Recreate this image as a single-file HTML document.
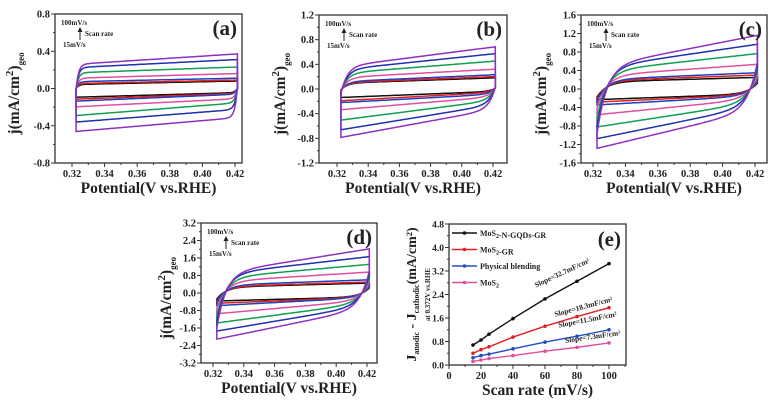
<!DOCTYPE html>
<html><head><meta charset="utf-8"><style>
html,body{margin:0;padding:0;background:#fff}
svg{display:block;font-family:"Liberation Serif",serif;font-weight:bold}
</style></head><body>
<svg id="fig" width="782" height="400" viewBox="0 0 782 400" xmlns="http://www.w3.org/2000/svg"></svg>
<script>
// ---- data ----
const scanRates = [15,20,25,40,60,80,100];
const cvColors = ["#111","#e02020","#2040c0","#e050a0","#10a050","#2030b0","#9030c0"];
// per panel: anodic at 0.34, anodic at 0.42, cathodic at 0.33, cathodic at 0.41
const aAnL=[0.05,0.06,0.08,0.12,0.18,0.24,0.28], aAnR=[0.08,0.09,0.11,0.16,0.23,0.31,0.37], aCaL=[-0.09,-0.11,-0.13,-0.19,-0.28,-0.35,-0.45], aCaR=[-0.05,-0.06,-0.07,-0.12,-0.17,-0.24,-0.33];
const bAnL=[0.11,0.12,0.14,0.21,0.29,0.36,0.42], bAnR=[0.18,0.2,0.23,0.32,0.45,0.57,0.68], bCaL=[-0.13,-0.18,-0.21,-0.32,-0.48,-0.63,-0.75], bCaR=[-0.05,-0.07,-0.1,-0.15,-0.22,-0.3,-0.38];
const cAnL=[0.17,0.2,0.23,0.33,0.45,0.55,0.6], cAnR=[0.25,0.3,0.35,0.53,0.76,0.96,1.15], cCaL=[-0.22,-0.27,-0.33,-0.53,-0.78,-1.02,-1.22], cCaR=[-0.12,-0.14,-0.17,-0.25,-0.35,-0.45,-0.55];
const dAnL=[0.3,0.33,0.4,0.6,0.8,1.0,1.1], dAnR=[0.45,0.5,0.6,0.95,1.3,1.65,2.0], dCaL=[-0.35,-0.45,-0.55,-0.9,-1.3,-1.65,-2.0], dCaR=[-0.2,-0.22,-0.25,-0.4,-0.55,-0.7,-0.85];
const xTickLabels = ["0.32","0.34","0.36","0.38","0.40","0.42"];
const aYTicks=["-0.8","-0.4","0.0","0.4","0.8"];
const bYTicks=["-1.2","-0.8","-0.4","0.0","0.4","0.8","1.2"];
const cYTicks=["-1.6","-1.2","-0.8","-0.4","0.0","0.4","0.8","1.2","1.6"];
const dYTicks=["-3.2","-2.4","-1.6","-0.8","0.0","0.8","1.6","2.4","3.2"];
// panel e
const eRates=[15,20,25,40,60,80,100];
const eGQD=[0.68,0.85,1.05,1.58,2.25,2.85,3.45];
const eGR=[0.4,0.52,0.62,0.95,1.32,1.65,1.95];
const eBlend=[0.25,0.32,0.37,0.55,0.78,0.98,1.2];
const eMoS2=[0.12,0.17,0.22,0.32,0.47,0.6,0.75];
const eXTicks=["0","20","40","60","80","100"];
const eYTicks=["0.0","0.8","1.6","2.4","3.2","4.0","4.8"];

const NS="http://www.w3.org/2000/svg";
const svg=document.getElementById('fig');
function el(tag,attrs,parent,text){const e=document.createElementNS(NS,tag);for(const k in attrs)e.setAttribute(k,attrs[k]);if(text!==undefined)e.textContent=text;(parent||svg).appendChild(e);return e;}

const panels=[
 {id:'a',L:55,R:242,T:14,B:163,x32:72,x42:235,ymin:-0.8,ymax:0.8,yt:aYTicks,tau:0.0015,ks:0,ke:0,an:[aAnL,aAnR],ca:[aCaL,aCaR],ylx:14},
 {id:'b',L:319,R:507,T:15,B:163,x32:337,x42:493,ymin:-1.2,ymax:1.2,yt:bYTicks,tau:0.004,ks:0.1,ke:0.05,an:[bAnL,bAnR],ca:[bCaL,bCaR],ylx:280},
 {id:'c',L:581,R:767,T:15,B:163,x32:593,x42:755,ymin:-1.6,ymax:1.6,yt:cYTicks,tau:0.006,ks:0.75,ke:0.5,an:[cAnL,cAnR],ca:[cCaL,cCaR],ylx:541},
 {id:'d',L:201,R:377,T:223,B:363,x32:213,x42:367,ymin:-3.2,ymax:3.2,yt:dYTicks,tau:0.006,ks:0.75,ke:0.5,an:[dAnL,dAnR],ca:[dCaL,dCaR],ylx:166}
];
panels.forEach(p=>{
 const g=el('g',{},svg);
 
 
 const sx=v=>p.x32+(v-0.32)/0.1*(p.x42-p.x32);
 const sy=v=>p.B-(v-p.ymin)/(p.ymax-p.ymin)*(p.B-p.T);
 const x0=0.3225,x1=0.4215;
 for(let i=0;i<scanRates.length;i++){
  const aL=p.an[0][i],aR=p.an[1][i],cL=p.ca[0][i],cR=p.ca[1][i];
  const ab=x=>aL+(aR-aL)*(x-0.34)/0.08;
  const cb=x=>cL+(cR-cL)*(x-0.33)/0.08;
  const s0=p.ks*cb(x0), e0=p.ke*ab(x1);
  let pts=[];
  pts.push(sx(x0).toFixed(1)+','+sy(cb(x0)).toFixed(1));
  for(let k=0;k<=100;k++){const x=x0+(x1-x0)*k/100;const j=ab(x)-(ab(x0)-s0)*Math.exp(-(x-x0)/p.tau);pts.push(sx(x).toFixed(1)+','+sy(j).toFixed(1));}
  for(let k=0;k<=100;k++){const x=x1-(x1-x0)*k/100;const j=cb(x)+(e0-cb(x1))*Math.exp(-(x1-x)/p.tau);pts.push(sx(x).toFixed(1)+','+sy(j).toFixed(1));}
  const c=el('polygon',{points:pts.join(' '),fill:'none',stroke:cvColors[i],'stroke-width':1.5},g);
  
  
 }
 const fr=el('rect',{x:p.L,y:p.T,width:p.R-p.L,height:p.B-p.T,fill:'none',stroke:'#333','stroke-width':1.3},g);
 
 
 xTickLabels.forEach(t=>{const x=sx(parseFloat(t));
  el('line',{x1:x,x2:x,y1:p.B,y2:p.B+4,stroke:'#333'},g);
  const mx=sx(parseFloat(t)+0.01); if(mx<p.R) el('line',{x1:mx,x2:mx,y1:p.B,y2:p.B+2,stroke:'#333'},g);
  const tl=el('text',{x:x,y:p.B+14,'font-size':10.5,'text-anchor':'middle',fill:'#222'},g,t);
  
  
 });
 p.yt.forEach((t,idx)=>{const v=parseFloat(t),y=sy(v);
  el('line',{x1:p.L-4,x2:p.L,y1:y,y2:y,stroke:'#333'},g);
  if(idx<p.yt.length-1){const my=(y+sy(parseFloat(p.yt[idx+1])))/2;el('line',{x1:p.L-2,x2:p.L,y1:my,y2:my,stroke:'#333'},g);}
  const tl=el('text',{x:p.L-5,y:y+3.5,'font-size':10.5,'text-anchor':'end',fill:'#222'},g,t);
  
  
 });
 const xt=el('text',{x:(p.L+p.R)/2,y:p.B+30,'font-size':15.5,'text-anchor':'middle',fill:'#222'},g,'Potential(V vs.RHE)');
 
 
 const cy=(p.T+p.B)/2;
 const yt=el('text',{x:p.ylx,y:cy,'font-size':15.5,'text-anchor':'middle',fill:'#222',transform:'rotate(-90 '+(p.ylx+5)+' '+cy+')'},g);
 
 
 yt.innerHTML='j(mA/cm<tspan dy="-6" font-size="11">2</tspan><tspan dy="6">)</tspan><tspan dy="5" font-size="9">geo</tspan>';
 const lb=el('text',{x:p.R-5,y:p.T+21,'font-size':21,'text-anchor':'end',fill:'#222'},g,'('+p.id+')');
 
 
 const ann=el('g',{},g);
 
 
 el('text',{x:p.L+6,y:p.T+11,'font-size':7,fill:'#222'},ann,'100mV/s');
 el('line',{x1:p.L+25,x2:p.L+25,y1:p.T+26,y2:p.T+16,stroke:'#222','stroke-width':1},ann);
 el('polygon',{points:(p.L+22.5)+','+(p.T+18)+' '+(p.L+27.5)+','+(p.T+18)+' '+(p.L+25)+','+(p.T+13),fill:'#222'},ann);
 el('text',{x:p.L+30,y:p.T+22,'font-size':7,fill:'#222'},ann,'Scan rate');
 el('text',{x:p.L+8,y:p.T+33,'font-size':7,fill:'#222'},ann,'15mV/s');
});

// ---- panel e ----
(function(){
 const L=449,R=626,T=224,B=365;
 const g=el('g',{},svg);
 
 
 const sx=v=>L+v*1.6, sy=v=>B-v/4.8*(B-T);
 const series=[
  {d:eGQD,c:'#111',n:'MoS2-N-GQDs-GR',name:'series-mos2-ngqds-gr'},
  {d:eGR,c:'#e02020',n:'MoS2-GR',name:'series-mos2-gr'},
  {d:eBlend,c:'#2050c0',n:'Physical blending',name:'series-physical-blending'},
  {d:eMoS2,c:'#e050a0',n:'MoS2',name:'series-mos2'}];
 series.forEach(s=>{
  const pl=el('polyline',{points:eRates.map((r,i)=>sx(r)+','+sy(s.d[i])).join(' '),fill:'none',stroke:s.c,'stroke-width':1.4},g);
  
  
  eRates.forEach((r,i)=>{const m=el('circle',{cx:sx(r),cy:sy(s.d[i]),r:1.8,fill:s.c},g);
   
   });
 });
 const fr=el('rect',{x:L,y:T,width:R-L,height:B-T,fill:'none',stroke:'#333','stroke-width':1.3},g);
 
 
 eXTicks.forEach(t=>{const v=parseFloat(t),x=sx(v);
  el('line',{x1:x,x2:x,y1:B,y2:B+4,stroke:'#333'},g);
  el('line',{x1:sx(v+10),x2:sx(v+10),y1:B,y2:B+2,stroke:'#333'},g);
  const tl=el('text',{x:x,y:B+14,'font-size':10.5,'text-anchor':'middle',fill:'#222'},g,t);
  
  });
 eYTicks.forEach((t,idx)=>{const v=parseFloat(t),y=sy(v);
  el('line',{x1:L-4,x2:L,y1:y,y2:y,stroke:'#333'},g);
  if(idx<eYTicks.length-1){const my=sy(v+0.4);el('line',{x1:L-2,x2:L,y1:my,y2:my,stroke:'#333'},g);}
  const tl=el('text',{x:L-5,y:y+3.5,'font-size':9.5,'text-anchor':'end',fill:'#222'},g,t);
  
  });
 const xt=el('text',{x:(L+R)/2,y:B+30,'font-size':15.5,'text-anchor':'middle',fill:'#222'},g,'Scan rate (mV/s)');
 
 
 const cy=(T+B)/2;
 const yt=el('text',{x:411,y:cy+5,'font-size':14,'text-anchor':'middle',fill:'#222',transform:'rotate(-90 411 '+cy+')'},g);
 
 
 yt.innerHTML='J<tspan font-size="8" dy="3">anodic</tspan><tspan dy="-3"> - J</tspan><tspan font-size="8" dy="3">cathodic</tspan><tspan dy="-3">(mA/cm²)</tspan>';
 const yt2=el('text',{x:427,y:cy+3,'font-size':7,'text-anchor':'middle',fill:'#222',transform:'rotate(-90 427 '+cy+')'},g,'at 0.372V vs.RHE');
 
 
 const lb=el('text',{x:R-5,y:T+22,'font-size':21,'text-anchor':'end',fill:'#222'},g,'(e)');
 
 
 series.forEach((s,i)=>{const y=233+i*16.5;
  const lg=el('g',{},g);
  
  
  el('line',{x1:452,x2:477,y1:y,y2:y,stroke:s.c,'stroke-width':1.4},lg);
  el('circle',{cx:464.5,cy:y,r:1.8,fill:s.c},lg);
  const tx=el('text',{x:480,y:y+3,'font-size':8,fill:'#222'},lg);
  tx.innerHTML=s.n.replace('MoS2','MoS<tspan dy="2" font-size="6">2</tspan><tspan dy="-2"></tspan>');
 });
 const slopes=[['Slope=32.7mF/cm²',563,275,-25],['Slope=18.3mF/cm²',584,309,-15],['Slope=11.5mF/cm²',588,322,-11],['Slope=7.3mF/cm²',593,339,-8]];
 slopes.forEach(s=>{const t=el('text',{x:s[1],y:s[2],'font-size':7.5,'text-anchor':'middle',fill:'#222',transform:'rotate('+s[3]+' '+s[1]+' '+s[2]+')'},g,s[0]);
  
  });
})();
</script>
</body></html>
